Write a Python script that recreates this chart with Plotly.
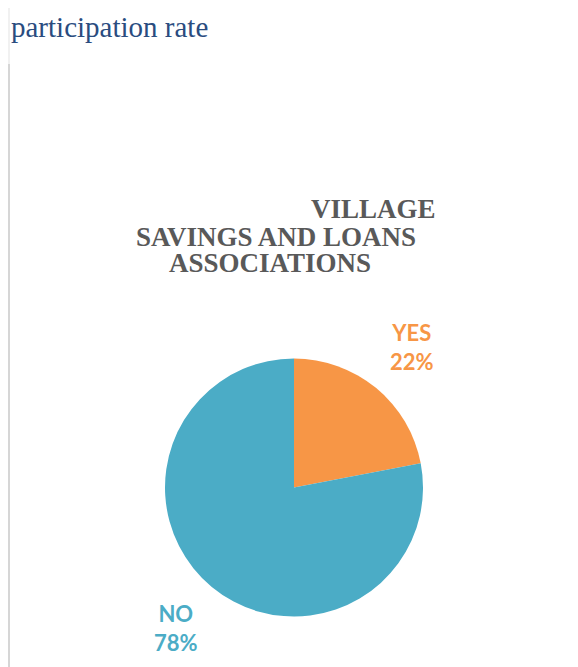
import plotly.graph_objects as go

# data
labels = ["YES", "NO"]
values = [22, 78]
colors = ["#F79646", "#4BACC6"]
title_lines = ["VILLAGE", "SAVINGS AND LOANS", "ASSOCIATIONS"]
caption = "participation rate"

W, H = 578, 667
OFF = 8  # the page body adds an 8px margin around the figure


def px(x):
    return (x - OFF) / W


def py(y):
    return 1 - (y - OFF) / H


fig = go.Figure()

fig.add_trace(go.Pie(
    labels=labels,
    values=values,
    marker=dict(colors=colors, line=dict(width=0)),
    sort=False,
    direction="clockwise",
    rotation=0,
    textinfo="none",
    hoverinfo="label+percent",
    showlegend=False,
    domain=dict(x=[px(165), px(423)], y=[py(617), py(358)]),
))

total = sum(values)
label_pos = {"YES": (412, 347), "NO": (176, 628)}
annotations = []
for lab, val, col in zip(labels, values, colors):
    x, y = label_pos[lab]
    annotations.append(dict(
        text=f"{lab}<br>{round(val / total * 100)}%",
        x=px(x), y=py(y), xref="paper", yref="paper",
        xanchor="center", yanchor="middle", showarrow=False,
        font=dict(family="Lato", size=22, color=col, weight="bold"),
    ))

# chart title, three lines as in the reference
title_pos = [(373, 209), (276, 237), (270, 263)]
for line, (x, y) in zip(title_lines, title_pos):
    annotations.append(dict(
        text=line, x=px(x), y=py(y), xref="paper", yref="paper",
        xanchor="center", yanchor="middle", showarrow=False,
        font=dict(family="Liberation Serif", size=27, color="#595959", weight="bold"),
    ))

# document caption above the chart
annotations.append(dict(
    text=caption, x=px(9), y=py(27), xref="paper", yref="paper",
    xanchor="left", yanchor="middle", showarrow=False,
    font=dict(family="Liberation Serif", size=29, color="#2A4C7F"),
))

shapes = [
    dict(type="line", xref="paper", yref="paper", x0=px(9), x1=px(9), y0=py(0), y1=py(64),
         line=dict(color="#E3E3E3", width=1)),
    dict(type="line", xref="paper", yref="paper", x0=px(9), x1=px(9), y0=py(64), y1=py(680),
         line=dict(color="#D6D6D6", width=2)),
    dict(type="line", xref="paper", yref="paper", x0=px(577), x1=px(577), y0=py(64), y1=py(680),
         line=dict(color="#D6D6D6", width=1.5)),
]

fig.update_layout(
    width=W,
    height=H,
    margin=dict(l=0, r=0, t=0, b=0),
    paper_bgcolor="white",
    plot_bgcolor="white",
    annotations=annotations,
    shapes=shapes,
)

fig.write_html("out.html")
